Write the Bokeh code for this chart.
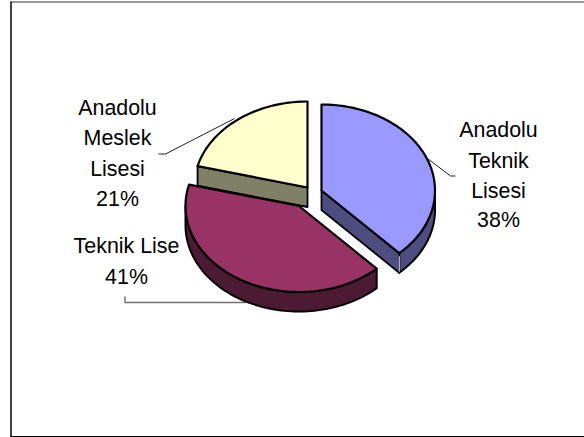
import numpy as np
from bokeh.plotting import figure
from bokeh.models import Range1d
from bokeh.core.properties import value
from bokeh.embed import file_html
from bokeh.resources import INLINE

categories = ["Anadolu Teknik Lisesi", "Teknik Lise", "Anadolu Meslek Lisesi"]
shares = [38, 41, 21]
percent_labels = ["38%", "41%", "21%"]
top_colors = ["#9999FF", "#993366", "#FFFFCC"]
wall_colors = ["#4D4D80", "#4D1A33", "#808066"]
apex_x = [321.0, 298.5, 307.0]
apex_y = [190.0, 205.5, 187.0]
RX, RY, DEPTH = 113.5, 86.0, 19.5

W, H = 584, 437
p = figure(width=W, height=H, x_range=Range1d(0, W), y_range=Range1d(H, 0),
           toolbar_location=None, output_backend="svg", min_border=0,
           outline_line_color=None, background_fill_color="white",
           border_fill_color="white")
p.axis.visible = False
p.grid.visible = False
p.styles = {"position": "absolute", "left": "0px", "top": "0px"}

# chart frame (open on the right, as in the reference)
p.line([10.5, 10.5], [1, 436.5], line_color="#404040", line_width=2)
p.line([10, 584], [1.5, 1.5], line_color="#303030", line_width=1)
p.line([10, 584], [436, 436], line_color="black", line_width=1)

# leader lines
p.line([427, 450, 455], [158, 175.5, 175.5], line_color="#202020", line_width=1)
p.line([234, 165, 158], [118, 153.5, 153.5], line_color="#202020", line_width=1)
p.line([124.5, 124.5], [296, 302], line_color="#303030", line_width=1)
p.line([124, 245], [302, 302], line_color="#707070", line_width=1.6)

total = sum(shares)
cum = np.cumsum([0] + shares) / total * 2 * np.pi


def arc(i, t0, t1, dy=0.0, n=80):
    t = np.linspace(t0, t1, n)
    return apex_x[i] + RX * np.sin(t), apex_y[i] - RY * np.cos(t) + dy


def wall_rim(i, t0, t1):
    x0, y0 = arc(i, t0, t1)
    x1, y1 = arc(i, t1, t0, DEPTH)
    p.patch(np.r_[x0, x1], np.r_[y0, y1], fill_color=wall_colors[i],
            line_color="black", line_width=2, line_join="round")


def wall_cut(i, t):
    ex, ey = arc(i, t, t, n=1)
    ax, ay = apex_x[i], apex_y[i]
    p.patch([ax, ex[0], ex[0], ax], [ay, ey[0], ey[0] + DEPTH, ay + DEPTH],
            fill_color=wall_colors[i], line_color="black", line_width=1.8,
            line_join="round")


def top(i):
    x, y = arc(i, cum[i], cum[i + 1])
    p.patch(np.r_[apex_x[i], x], np.r_[apex_y[i], y], fill_color=top_colors[i],
            line_color="black", line_width=2.2, line_join="round")


# yellow slice
wall_cut(2, cum[2])
top(2)
# blue slice
wall_rim(0, np.pi / 2, cum[1])
wall_cut(0, cum[1])
top(0)
ex, ey = arc(0, cum[1], cum[1], n=1)
p.line([ex[0], ex[0]], [ey[0] + 3, ey[0] + DEPTH - 1], line_color="white", line_width=1)
# maroon slice
wall_rim(1, cum[1], 3 * np.pi / 2)
top(1)

label_lines = [
    (498, [129, 160, 190, 219], ["Anadolu", "Teknik", "Lisesi", percent_labels[0]]),
    (117, [107, 137, 168, 198], ["Anadolu", "Meslek", "Lisesi", percent_labels[2]]),
    (126, [245, 276], ["Teknik Lise", percent_labels[1]]),
]
for x, ys, texts in label_lines:
    p.text([x] * len(ys), ys, text=texts, text_font=value("Liberation Sans"),
           text_font_size="21.4px", text_color="black", text_align="center",
           text_baseline="middle")

open("out.html", "w").write(file_html(p, INLINE))
